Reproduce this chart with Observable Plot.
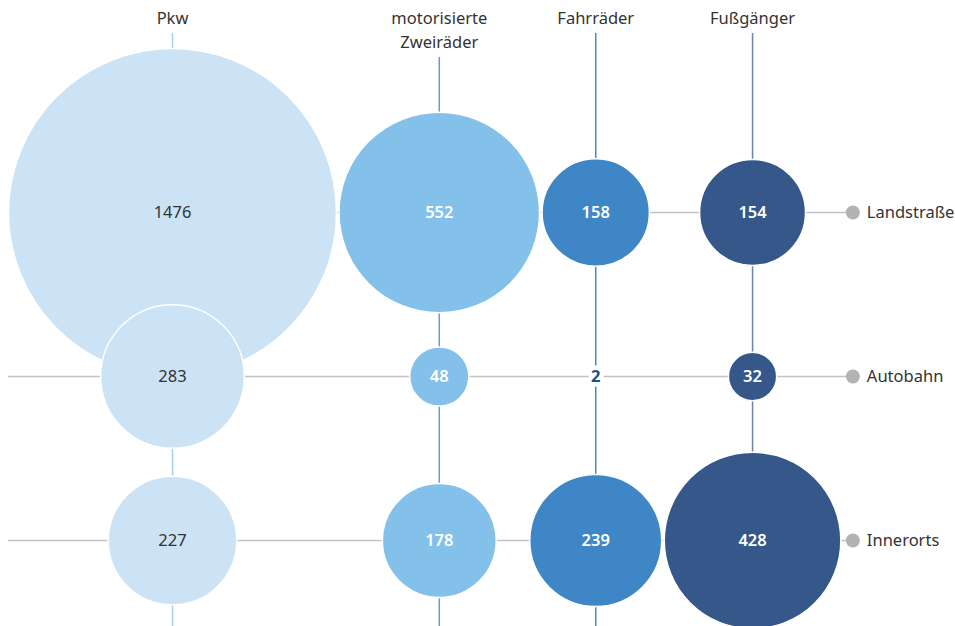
<!DOCTYPE html>
<html>
<head>
<meta charset="utf-8">
<script src="https://cdn.jsdelivr.net/npm/d3@7"></script>
<script src="https://cdn.jsdelivr.net/npm/@observablehq/plot@0.6"></script>
<style>
  html, body { margin: 0; padding: 0; background: #fff; }
  #chart svg { display: block; }
</style>
</head>
<body>
<div id="chart"></div>
<script>
// ---- data ----
const columns = ["Pkw", "motorisierte\nZweiräder", "Fahrräder", "Fußgänger"];
const rows = ["Landstraße", "Autobahn", "Innerorts"];
// values[row][column]
const landstrasse = [1476, 552, 158, 154];
const autobahn = [283, 48, 2, 32];
const innerorts = [227, 178, 239, 428];

// ---- styles ----
const fillColors = ["#cbe3f5", "#83c1ea", "#3f86c6", "#35578a"];
const lineColors = ["#a3d0f0", "#5e9dd6", "#4a88c9", "#6a84ad"];
const W = 955, H = 626;
const font = "'Noto Sans', 'Open Sans', sans-serif";
const fs = 16.5;

const valueRows = [landstrasse, autobahn, innerorts];
const cells = [];
rows.forEach((row, i) => columns.forEach((col, j) => cells.push({row, col, ci: j, value: valueRows[i][j]})));

// radius scale (same as Plot's r scale below) used for packing columns
const maxR = 164;
const rScale = d3.scaleSqrt().domain([0, d3.max(cells, d => d.value)]).range([0, maxR]);
const leftEdge = 8, gap = 2.5;
const colX = [];
columns.forEach((c, j) => {
  if (j === 0) colX.push(leftEdge + d3.max(valueRows, r => rScale(r[0])));
  else colX.push(colX[j - 1] + d3.max(valueRows, r => rScale(r[j - 1]) + rScale(r[j])) + gap);
});
const lastJ = columns.length - 1;
const dotX = colX[lastJ] + d3.max(valueRows, r => rScale(r[lastJ])) + 12;

const colData = columns.map((c, j) => ({col: c, ci: j, x: colX[j], lines: c.split("\n").length}));
const big = cells.filter(d => rScale(d.value) >= 15);
const small = cells.filter(d => rScale(d.value) < 15);

const chart = Plot.plot({
  width: W, height: H,
  margin: 0,
  x: {type: "identity", axis: null},
  y: {type: "point", domain: rows, range: [211, 540], padding: 0, axis: null},
  r: {domain: [0, d3.max(cells, d => d.value)], range: [0, maxR]},
  style: {fontFamily: font, background: "#fff"},
  marks: [
    // horizontal row lines
    Plot.ruleY(rows, {y: d => d, x1: leftEdge, x2: dotX, stroke: "#c3c3c5", strokeWidth: 1.5}),
    // vertical column lines
    Plot.ruleX(colData.filter(d => d.lines === 1), {x: "x", stroke: d => lineColors[d.ci], strokeWidth: 1.5, insetTop: 33}),
    Plot.ruleX(colData.filter(d => d.lines === 2), {x: "x", stroke: d => lineColors[d.ci], strokeWidth: 1.5, insetTop: 57}),
    // bubbles
    Plot.dot(cells, {x: d => colX[d.ci], y: "row", r: "value", fill: d => fillColors[d.ci], stroke: "white", strokeWidth: 1.5}),
    // value labels inside light bubbles
    Plot.text(big.filter(d => d.ci === 0), {
      x: d => colX[d.ci], y: "row", text: d => String(d.value),
      fill: "#333333", fontSize: fs, fontWeight: 400
    }),
    // value labels inside darker bubbles
    Plot.text(big.filter(d => d.ci !== 0), {
      x: d => colX[d.ci], y: "row", text: d => String(d.value),
      fill: "#ffffff", fontSize: fs, fontWeight: 600
    }),
    // labels for tiny bubbles (with white halo)
    Plot.text(small, {
      x: d => colX[d.ci], y: "row", text: d => String(d.value),
      fill: "#1f4e89", fontSize: fs, fontWeight: 700,
      stroke: "white", strokeWidth: 9
    }),
    // row end dots and labels
    Plot.dot(rows, {x: dotX, y: d => d, r: 7, fill: "#b3b3b5"}),
    Plot.text(rows, {x: dotX + 14, y: d => d, text: d => d, textAnchor: "start", fontSize: fs, fill: "#333"}),
    // column labels
    Plot.text(colData, {x: "x", text: "col", frameAnchor: "top", lineAnchor: "top", dy: 6, fontSize: fs, lineHeight: 24 / fs, fill: "#333"})
  ]
});
document.getElementById("chart").appendChild(chart);
</script>
</body>
</html>
